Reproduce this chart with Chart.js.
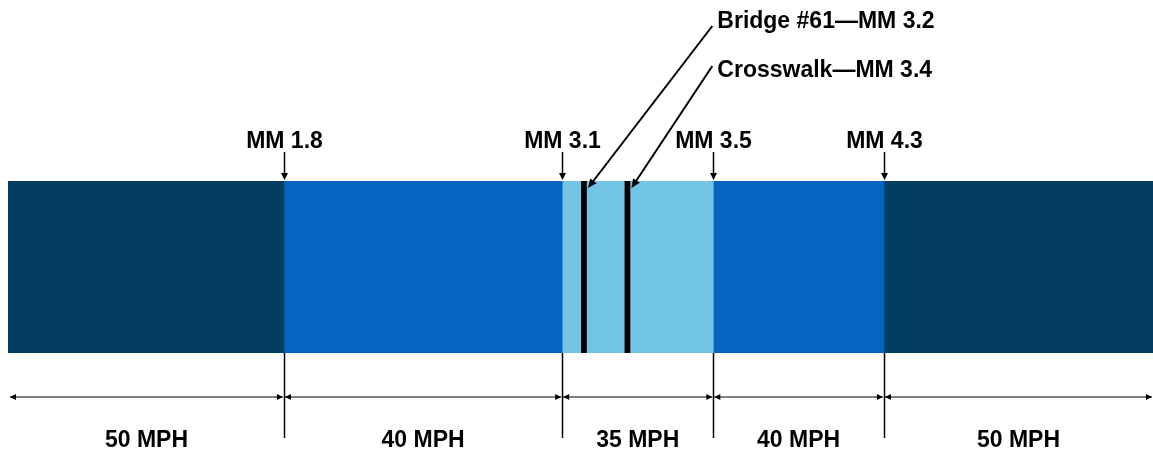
<!DOCTYPE html>
<html>
<head>
<meta charset="utf-8">
<script src="https://cdn.jsdelivr.net/npm/chart.js@4.4.0/dist/chart.umd.min.js"></script>
<style>
html, body { margin: 0; padding: 0; background: #fff; }
#wrap { width: 1153px; height: 450px; }
</style>
</head>
<body>
<div id="wrap"><canvas id="roadChart"></canvas></div>
<script>
// segment edges on a schematic 0-100 scale (the drawing is not to mile scale)
var segEdges = [0, 24.1, 48.4, 61.6, 76.5, 100];
var speedLabels = ['50 MPH', '40 MPH', '35 MPH', '40 MPH', '50 MPH'];
var segColors = ['#023e62', '#0563c1', '#72c4e4', '#0563c1', '#023e62'];
var markerLabels = ['MM 1.8', 'MM 3.1', 'MM 3.5', 'MM 4.3'];
var featurePos = [50.3, 54.1];
var featureLabels = ['Bridge #61\u2014MM 3.2', 'Crosswalk\u2014MM 3.4'];

function line(ctx, x1, y1, x2, y2) {
	ctx.beginPath();
	ctx.moveTo(x1, y1);
	ctx.lineTo(x2, y2);
	ctx.stroke();
}

function arrowHead(ctx, x, y, angle, len, half) {
	ctx.save();
	ctx.translate(x, y);
	ctx.rotate(angle);
	ctx.beginPath();
	ctx.moveTo(0, 0);
	ctx.lineTo(-len, -half);
	ctx.lineTo(-len, half);
	ctx.closePath();
	ctx.fill();
	ctx.restore();
}

var annotations = {
	id: 'annotations',
	afterDatasetsDraw: function(chart) {
		var ctx = chart.ctx, x = chart.scales.x, area = chart.chartArea;
		ctx.save();
		ctx.strokeStyle = '#000';
		ctx.fillStyle = '#000';
		ctx.lineWidth = 1.5;
		ctx.font = 'bold 23px "Liberation Sans", Arial, sans-serif';
		ctx.textAlign = 'center';
		ctx.textBaseline = 'alphabetic';

		// mile markers above, boundary lines below
		markerLabels.forEach(function(label, i) {
			var px = Math.round(x.getPixelForValue(segEdges[i + 1])) + 0.5;
			ctx.fillText(label, px, area.top - 33);
			line(ctx, px, area.top - 29, px, area.top - 6);
			arrowHead(ctx, px, area.top - 1, Math.PI / 2, 7, 3.5);
			line(ctx, px, area.bottom, px, area.bottom + 85);
		});

		// speed zone dimension arrows
		var dimY = area.bottom + 44;
		ctx.lineWidth = 1.2;
		speedLabels.forEach(function(label, i) {
			var a = x.getPixelForValue(segEdges[i]) + (i === 0 ? 2 : 1);
			var b = x.getPixelForValue(segEdges[i + 1]) - 1;
			line(ctx, a, dimY, b, dimY);
			arrowHead(ctx, a, dimY, Math.PI, 6, 3);
			arrowHead(ctx, b, dimY, 0, 6, 3);
			ctx.fillText(label, (a + b) / 2, area.bottom + 94);
		});

		// bridge / crosswalk callouts
		var textX = x.getPixelForValue(segEdges[3]) + 4;
		var textY = [area.top - 153, area.top - 104];
		ctx.textAlign = 'left';
		ctx.lineWidth = 2;
		featureLabels.forEach(function(label, i) {
			ctx.fillText(label, textX, textY[i]);
			var sx = textX - 5, sy = textY[i] - (i === 0 ? 2 : 11);
			var tx = x.getPixelForValue(featurePos[i]) + 4, ty = area.top + 7;
			var ang = Math.atan2(ty - sy, tx - sx);
			line(ctx, sx, sy, tx - 6 * Math.cos(ang), ty - 6 * Math.sin(ang));
			arrowHead(ctx, tx, ty, ang, 9, 4);
		});
		ctx.restore();
	}
};

var datasets = speedLabels.map(function(label, i) {
	return {
		label: label,
		data: [[segEdges[i], segEdges[i + 1]]],
		backgroundColor: segColors[i],
		grouped: false,
		order: 2,
		barPercentage: 1,
		categoryPercentage: 1
	};
});
// bridge and crosswalk drawn as thin black bars on top of the zones
featurePos.forEach(function(p, i) {
	datasets.push({
		label: featureLabels[i],
		data: [[p - 0.22, p + 0.22]],
		backgroundColor: '#000',
		grouped: false,
		order: 1,
		barPercentage: 1,
		categoryPercentage: 1
	});
});

new Chart(document.getElementById('roadChart'), {
	type: 'bar',
	data: { labels: ['road'], datasets: datasets },
	options: {
		indexAxis: 'y',
		responsive: true,
		maintainAspectRatio: false,
		animation: false,
		layout: { padding: { left: 8, right: 0, top: 181, bottom: 97 } },
		scales: {
			x: { type: 'linear', min: 0, max: 100, display: false },
			y: { display: false }
		},
		plugins: {
			legend: { display: false },
			tooltip: { enabled: false }
		}
	},
	plugins: [annotations]
});
</script>
</body>
</html>
